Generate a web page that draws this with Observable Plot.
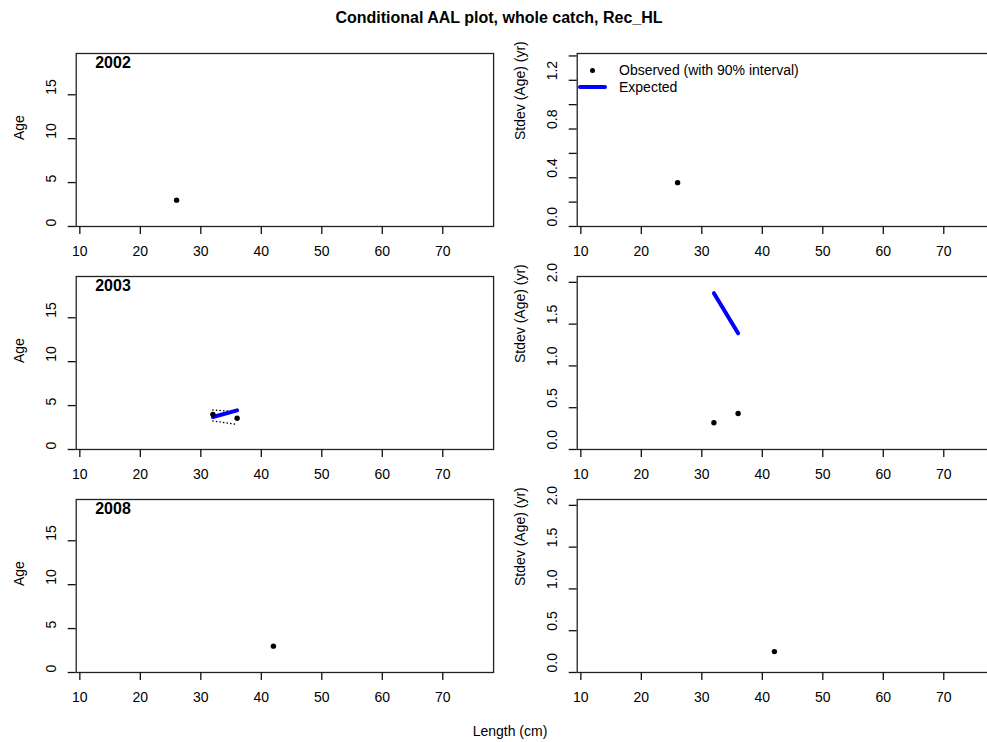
<!DOCTYPE html>
<html><head><meta charset="utf-8">
<script src="https://cdn.jsdelivr.net/npm/d3@7"></script>
<script src="https://cdn.jsdelivr.net/npm/@observablehq/plot@0.6"></script>
<style>
body{margin:0;background:#fff;}
#root{position:relative;width:987px;height:742px;overflow:hidden;background:#fff;font-family:"Liberation Sans",Arial,sans-serif;color:#000;}
.abs{position:absolute;}
</style></head><body><div id="root"></div>
<script>
// ---- data ----
const years = [2002, 2003, 2008];
const lengthTicks = [10, 20, 30, 40, 50, 60, 70];
const ageTicks = [0, 5, 10, 15];
const sdTicksRow1 = [0, 0.2, 0.4, 0.6, 0.8, 1.0, 1.2, 1.4];
const sdLabelsRow1 = [0, 0.4, 0.8, 1.2];
const sdTicks = [0, 0.5, 1.0, 1.5, 2.0];

// observed mean age and stdev of age at length
const obsYear   = [2002, 2003, 2003, 2008];
const obsLength = [26, 32, 36, 42];
const obsAge    = [3.0, 4.0, 3.55, 3.0];
const obsSd     = [0.36, 0.32, 0.43, 0.25];

// observed 90% interval (2003)
const ciYear   = [2003, 2003];
const ciLength = [32, 36];
const ciLow    = [3.25, 2.85];
const ciHigh   = [4.5, 4.3];

// expected
const expYear   = [2003, 2003];
const expLength = [32, 36];
const expAge    = [3.7, 4.45];
const expSd     = [1.87, 1.39];

// ---- build tables ----
const obs = obsYear.map((y, i) => ({year: y, len: obsLength[i], age: obsAge[i], sd: obsSd[i]}));
const ci = ciYear.map((y, i) => ({year: y, len: ciLength[i], lo: ciLow[i], hi: ciHigh[i]}));
const exp = expYear.map((y, i) => ({year: y, len: expLength[i], age: expAge[i], sd: expSd[i]}));

const root = document.getElementById("root");
const FONT = "Liberation Sans, Arial, Helvetica, sans-serif";
const xDomain = [9.4, 78.4];
const boxW = 417.4, boxH = 173;
const boxTops = [52.7, 275.5, 499];
const leftBoxX = 75.7, rightBoxX = 576.8;
const mL = 75.7, mR = 1, mT = 1, mB = 40;

function panel({year, kind, boxX, boxY}) {
  const isAge = kind === "age";
  const yDomain = isAge ? [0, 19.7] : (year === 2002 ? [0, 1.42] : [0, 2.07]);
  const yTicks = isAge ? ageTicks : (year === 2002 ? sdTicksRow1 : sdTicks);
  const yLabels = isAge ? ageTicks : (year === 2002 ? sdLabelsRow1 : sdTicks);
  const fmt = isAge ? (d => String(d)) : (d => d.toFixed(1));
  const yKey = isAge ? "age" : "sd";
  const o = obs.filter(d => d.year === year);
  const e = exp.filter(d => d.year === year);
  const c = ci.filter(d => d.year === year);
  const marks = [
    Plot.frame({stroke: "#222", strokeWidth: 1.3}),
    Plot.axisX({ticks: lengthTicks, tickSize: 8, tickPadding: 12, fontSize: 14, label: null, stroke: "#111", strokeWidth: 1.3, tickFormat: d => String(d)}),
    Plot.axisY({ticks: yTicks, tickSize: 8, label: null, tickFormat: () => "", stroke: "#111", strokeWidth: 1.3}),
    Plot.text(yLabels, {y: d => d, text: fmt, frameAnchor: "left", dx: -25, rotate: -90, fontSize: 14}),
    Plot.text([isAge ? "Age" : "Stdev (Age) (yr)"], {frameAnchor: "left", dx: -57, rotate: -90, fontSize: 14})
  ];
  if (isAge) {
    marks.push(Plot.line(c, {x: "len", y: "lo", stroke: "#000", strokeWidth: 1.6, strokeDasharray: "0.1,3.5", strokeLinecap: "round"}));
    marks.push(Plot.line(c, {x: "len", y: "hi", stroke: "#000", strokeWidth: 1.6, strokeDasharray: "0.1,3.5", strokeLinecap: "round"}));
    marks.push(Plot.text([String(year)], {frameAnchor: "top-left", dx: 19, dy: 3, lineAnchor: "top", fontSize: 16, fontWeight: "bold"}));
  }
  marks.push(Plot.line(e, {x: "len", y: yKey, stroke: "#0000ff", strokeWidth: 4, strokeLinecap: "round"}));
  marks.push(Plot.dot(o, {x: "len", y: yKey, r: 2.7, fill: "#000", stroke: "none"}));
  const chart = Plot.plot({
    width: mL + boxW + mR,
    height: mT + boxH + mB,
    marginLeft: mL, marginRight: mR, marginTop: mT, marginBottom: mB,
    x: {domain: xDomain},
    y: {domain: yDomain},
    style: {fontFamily: FONT, fontSize: "14px", color: "#000", background: "transparent", overflow: "visible"},
    marks
  });
  chart.classList.add("abs");
  chart.style.left = (boxX - mL) + "px";
  chart.style.top = (boxY - mT) + "px";
  root.appendChild(chart);
}

years.forEach((year, r) => {
  panel({year, kind: "age", boxX: leftBoxX, boxY: boxTops[r]});
  panel({year, kind: "sd", boxX: rightBoxX, boxY: boxTops[r]});
});

// title
const title = document.createElement("div");
title.className = "abs";
title.textContent = "Conditional AAL plot, whole catch, Rec_HL";
Object.assign(title.style, {left: "0px", width: "998px", top: "8px", textAlign: "center", fontWeight: "bold", fontSize: "16px", lineHeight: "20px"});
root.appendChild(title);

// x axis title
const xt = document.createElement("div");
xt.className = "abs";
xt.textContent = "Length (cm)";
Object.assign(xt.style, {left: "0px", width: "1020px", top: "722px", textAlign: "center", fontSize: "14px", lineHeight: "18px"});
root.appendChild(xt);

// legend (top-right panel)
const leg = document.createElement("div");
leg.className = "abs";
Object.assign(leg.style, {left: "576px", top: "61px", fontSize: "14px", lineHeight: "16px"});
leg.innerHTML =
  '<div style="position:relative;height:16px;"><span style="position:absolute;left:13.5px;top:6.5px;width:5.4px;height:5.4px;border-radius:50%;background:#000"></span><span style="position:absolute;left:43px;top:1px;white-space:nowrap">Observed (with 90% interval)</span></div>' +
  '<div style="position:relative;height:16px;"><span style="position:absolute;left:2px;top:8px;width:29px;height:4px;border-radius:2px;background:#0000ff"></span><span style="position:absolute;left:43px;top:2px;white-space:nowrap">Expected</span></div>';
root.appendChild(leg);
</script>
</body></html>
